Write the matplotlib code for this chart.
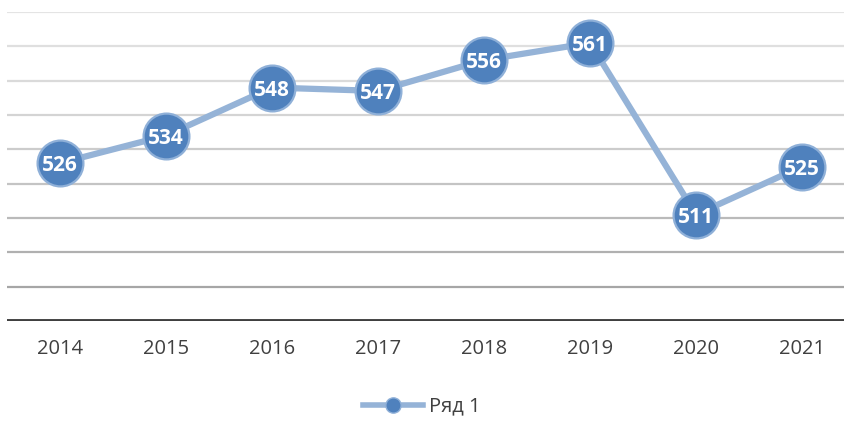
import matplotlib
matplotlib.use('Agg')
import matplotlib.pyplot as plt
from matplotlib.lines import Line2D

years = ['2014', '2015', '2016', '2017', '2018', '2019', '2020', '2021']
values = [526, 534, 548, 547, 556, 561, 511, 525]
grid_levels = [490, 500, 510, 520, 530, 540, 550, 560, 570]
series_name = 'Ряд 1'

plt.rcParams['font.family'] = ['Open Sans', 'DejaVu Sans']

fig = plt.figure(figsize=(8.44, 4.22), dpi=100)
# plot area: 7px .. 855px wide (right edge runs off the figure), 12px .. 321px tall
ax = fig.add_axes([7 / 844, (422 - 321) / 422, 848 / 844, 309 / 422])
ax.set_xlim(-0.5, len(years) - 0.5)
ax.set_ylim(480, 570)

# grid lines get darker towards the bottom
grid_colors = ['#a6a6a6', '#b0b0b0', '#bababa', '#c4c4c4', '#cccccc',
               '#d4d4d4', '#dadada', '#dfdfdf', '#e4e4e4']
for lvl, c in zip(grid_levels, grid_colors):
    ax.axhline(lvl, color=c, lw=1.6, zorder=0)
ax.axhline(480, color='#404040', lw=2.8, zorder=1)

x = list(range(len(years)))
ax.plot(x, values, color='#95b3d7', lw=4.5, marker='o', ms=33,
        mfc='#4f81bd', mec='#8fb0d8', mew=1.6, zorder=3, clip_on=False)

for xi, v in zip(x, values):
    ax.text(xi, v, str(v), ha='center', va='center_baseline', color='white',
            fontsize=15, fontweight='bold', zorder=4)

ax.set_xticks(x)
ax.set_xticklabels(years, fontsize=14.5, color='#404040')
ax.tick_params(axis='x', length=0, pad=13)
ax.set_yticks([])
for s in ax.spines.values():
    s.set_visible(False)
ax.patch.set_alpha(0)

handle = Line2D([], [], color='#95b3d7', lw=4, marker='o', ms=11,
                mfc='#4f81bd', mec='#8fb0d8', mew=1)
fig.legend([handle], [series_name], loc='center', bbox_to_anchor=(0.5, 0.036),
           frameon=False, fontsize=14.5, labelcolor='#404040',
           handlelength=3.0, handletextpad=0.3)

fig.savefig('out.png', dpi=100)
